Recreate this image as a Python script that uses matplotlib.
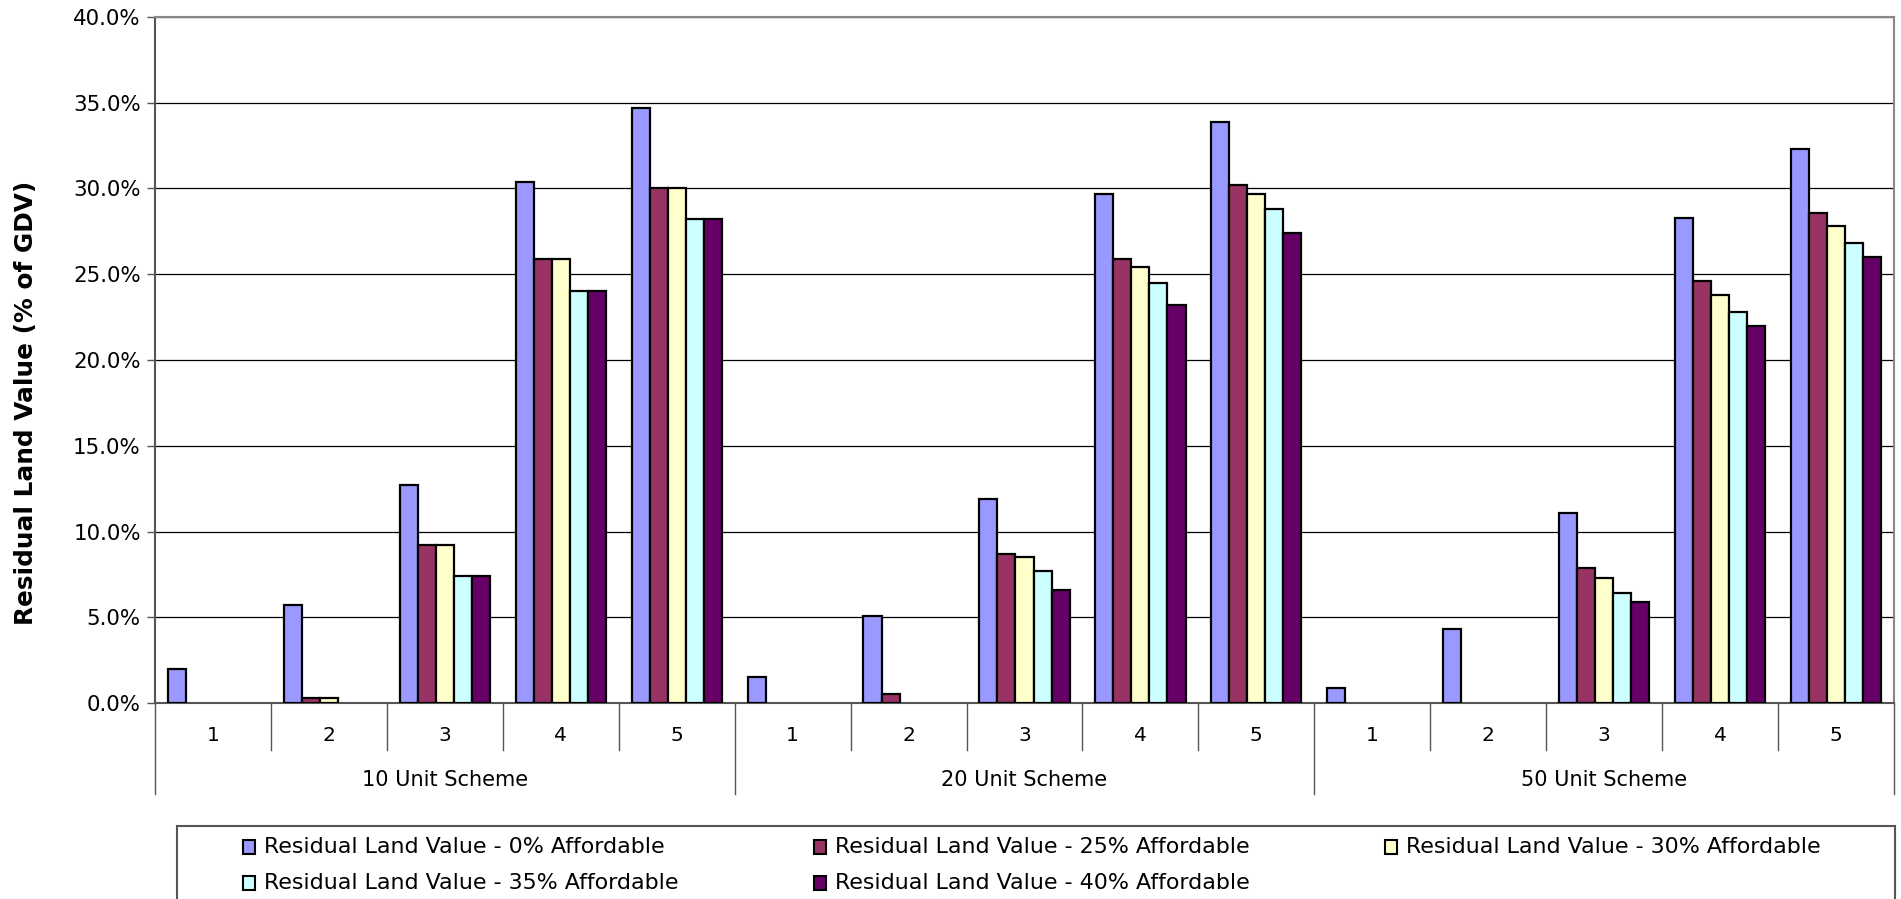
import matplotlib
matplotlib.use("Agg")
import matplotlib.pyplot as plt
from matplotlib.patches import Rectangle
from matplotlib.ticker import FuncFormatter
import numpy as np

# ----- DATA (residual land value as % of GDV) -----
schemes = ["10 Unit Scheme", "20 Unit Scheme", "50 Unit Scheme"]
sites = ["1", "2", "3", "4", "5"]
series = [
    "Residual Land Value - 0% Affordable",
    "Residual Land Value - 25% Affordable",
    "Residual Land Value - 30% Affordable",
    "Residual Land Value - 35% Affordable",
    "Residual Land Value - 40% Affordable",
]
colors = ["#9999FF", "#993366", "#FFFFCC", "#CCFFFF", "#660066"]

# 15 values each: sites 1-5 for the 10, 20 and 50 unit schemes
rlv_0 = [2.0, 5.7, 12.7, 30.4, 34.7, 1.5, 5.1, 11.9, 29.7, 33.9, 0.9, 4.3, 11.1, 28.3, 32.3]
rlv_25 = [0.0, 0.3, 9.2, 25.9, 30.0, 0.0, 0.5, 8.7, 25.9, 30.2, 0.0, 0.0, 7.9, 24.6, 28.6]
rlv_30 = [0.0, 0.3, 9.2, 25.9, 30.0, 0.0, 0.0, 8.5, 25.4, 29.7, 0.0, 0.0, 7.3, 23.8, 27.8]
rlv_35 = [0.0, 0.0, 7.4, 24.0, 28.2, 0.0, 0.0, 7.7, 24.5, 28.8, 0.0, 0.0, 6.4, 22.8, 26.8]
rlv_40 = [0.0, 0.0, 7.4, 24.0, 28.2, 0.0, 0.0, 6.6, 23.2, 27.4, 0.0, 0.0, 5.9, 22.0, 26.0]
values = [rlv_0, rlv_25, rlv_30, rlv_35, rlv_40]

plt.rcParams['font.family'] = ['DejaVu Sans']

W, H = 1901, 899
fig = plt.figure(figsize=(W / 100, H / 100), dpi=100)
ax = fig.add_axes([155 / W, (H - 703) / H, (1894 - 155) / W, (703 - 17) / H])

# ----- BARS -----
n_cat = len(schemes) * len(sites)
x = np.arange(n_cat) + 0.5
bw = 0.1555
for i, (vals, col) in enumerate(zip(values, colors)):
    lw = [1.6 if v > 0 else 0 for v in vals]
    ax.bar(x + (i - 2) * bw, vals, width=bw, color=col, edgecolor="black",
           linewidth=lw, zorder=3)

ax.set_xlim(0, n_cat)
ax.set_ylim(0, 40)
ax.set_yticks(np.arange(0, 40.1, 5))
ax.yaxis.set_major_formatter(FuncFormatter(lambda v, p: f"{v:.1f}%"))
ax.tick_params(axis="y", labelsize=15.4, length=5.8, width=1, color="#555555", pad=4.5)
ax.set_xticks([])
ax.grid(axis="y", color="black", linewidth=0.9, zorder=0)
ax.set_axisbelow(True)

for side in ["top", "right"]:
    ax.spines[side].set_color("#888888")
    ax.spines[side].set_linewidth(1.5)
for side in ["left", "bottom"]:
    ax.spines[side].set_color("#555555")
    ax.spines[side].set_linewidth(1.5)

ax.set_ylabel("Residual Land Value (% of GDV)", fontsize=17.8, fontweight="bold")
ax.yaxis.set_label_coords(-0.067, 0.437)

# ----- TWO-LEVEL CATEGORY AXIS -----
trans = ax.get_xaxis_transform()
for k in range(n_cat + 1):
    y_end = -0.1327 if k % len(sites) == 0 else -0.0686
    ax.plot([k, k], [0, y_end], color="#555555", linewidth=1, transform=trans,
            clip_on=False)
for j in range(n_cat):
    ax.text(x[j], -0.0477, sites[j % len(sites)], transform=trans,
            ha="center", va="center", fontsize=14.5)
for s, name in enumerate(schemes):
    ax.text(s * len(sites) + len(sites) / 2, -0.1122, name, transform=trans,
            ha="center", va="center", fontsize=15)

# ----- LEGEND (row-major, 3 columns) -----
fig.patches.append(Rectangle((177 / W, -0.01), (1895 - 177) / W, (H - 826) / H + 0.01,
                             transform=fig.transFigure, facecolor="white",
                             edgecolor="#555555", linewidth=1.5, zorder=0))
col_x = [243, 814, 1385]
row_y = [847, 883]
for i, (label, col) in enumerate(zip(series, colors)):
    cx = col_x[i % 3]
    cy = row_y[i // 3]
    fig.patches.append(Rectangle((cx / W, (H - cy - 7) / H), 12 / W, 14 / H,
                                 transform=fig.transFigure, facecolor=col,
                                 edgecolor="black", linewidth=1.5, zorder=2))
    fig.text((cx + 21) / W, (H - cy) / H, label, ha="left", va="center", fontsize=15.9)

fig.savefig("out.png", dpi=100)
